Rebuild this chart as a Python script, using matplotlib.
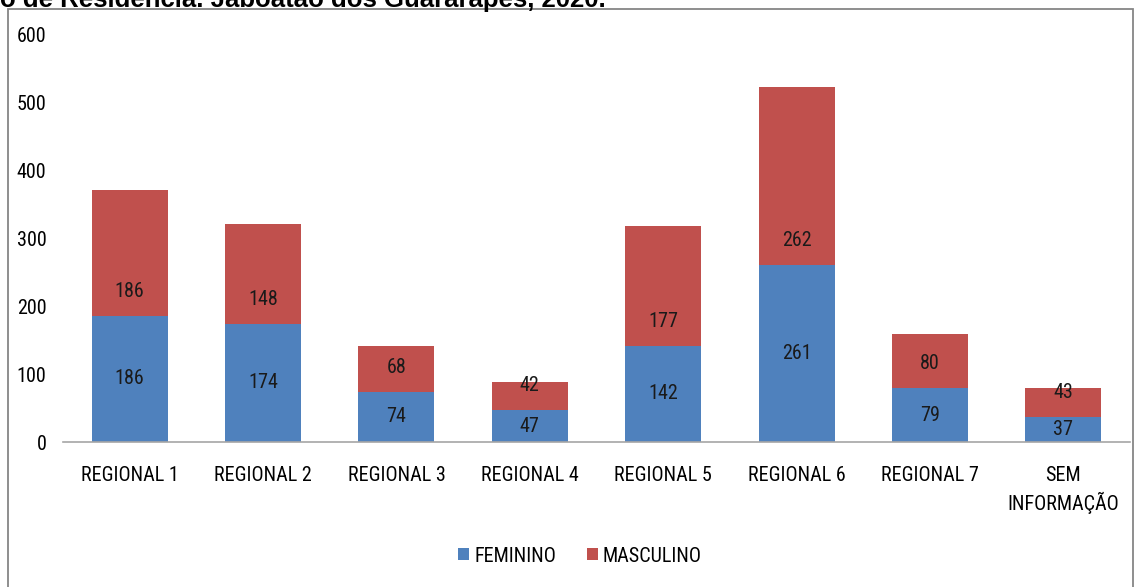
import matplotlib.pyplot as plt
from matplotlib.patches import Rectangle

# dados
regionais = ['REGIONAL 1', 'REGIONAL 2', 'REGIONAL 3', 'REGIONAL 4', 'REGIONAL 5',
             'REGIONAL 6', 'REGIONAL 7', 'SEM\nINFORMAÇÃO']
feminino = [186, 174, 74, 47, 142, 261, 79, 37]
masculino = [186, 148, 68, 42, 177, 262, 80, 43]

cor_fem = '#4f81bd'
cor_masc = '#c0504d'

plt.rcParams['font.family'] = ['Roboto Condensed', 'DejaVu Sans']

W, H = 1134, 587
fig = plt.figure(figsize=(W / 100, H / 100), dpi=100)
ax = fig.add_axes([63 / W, (H - 442) / H, (1130 - 63) / W, (442 - 35) / H])

x = list(range(len(regionais)))
ax.bar(x, feminino, width=0.57, color=cor_fem, label='FEMININO')
ax.bar(x, masculino, width=0.57, bottom=feminino, color=cor_masc, label='MASCULINO')

# rótulos: feminino no centro, masculino logo acima da divisão (como no Excel)
for i, (f, m) in enumerate(zip(feminino, masculino)):
    ax.text(i, f / 2, str(f), ha='center', va='center', fontsize=14.5, color='#1a1a1a')
    ax.text(i, f + 36, str(m), ha='center', va='center', fontsize=14.5, color='#1a1a1a')

ax.set_ylim(0, 600)
ax.set_xlim(-0.5, len(regionais) - 0.5)
ax.set_yticks(range(0, 601, 100))
ax.set_xticks(x)
ax.set_xticklabels(regionais, fontsize=14.5, linespacing=1.4)
ax.tick_params(axis='y', labelsize=14.5, length=0, pad=12)
ax.tick_params(axis='x', length=0, pad=17)
for s in ['top', 'right', 'left']:
    ax.spines[s].set_visible(False)
ax.spines['bottom'].set_color('#a6a6a6')
ax.spines['bottom'].set_linewidth(1.2)

fig.legend(loc='center', bbox_to_anchor=(580 / W, 1 - 556 / H), ncol=2, frameon=False,
           fontsize=14.5, handlelength=0.55, handleheight=0.55, handletextpad=0.25,
           columnspacing=1.5)

# moldura do gráfico
fig.add_artist(Rectangle((8 / W, -0.1), (1133 - 8) / W, 1.1 - 8.5 / H,
                         transform=fig.transFigure, fill=False,
                         edgecolor='#868686', linewidth=1.3))

# título (cortado no topo)
fig.text(0, 1 - 7.5 / H, 'o de Residência. Jaboatão dos Guararapes, 2020.',
         fontsize=18.5, fontweight='bold', family=['Liberation Sans', 'DejaVu Sans'],
         va='baseline', ha='left')

fig.savefig('out.png', dpi=100)
